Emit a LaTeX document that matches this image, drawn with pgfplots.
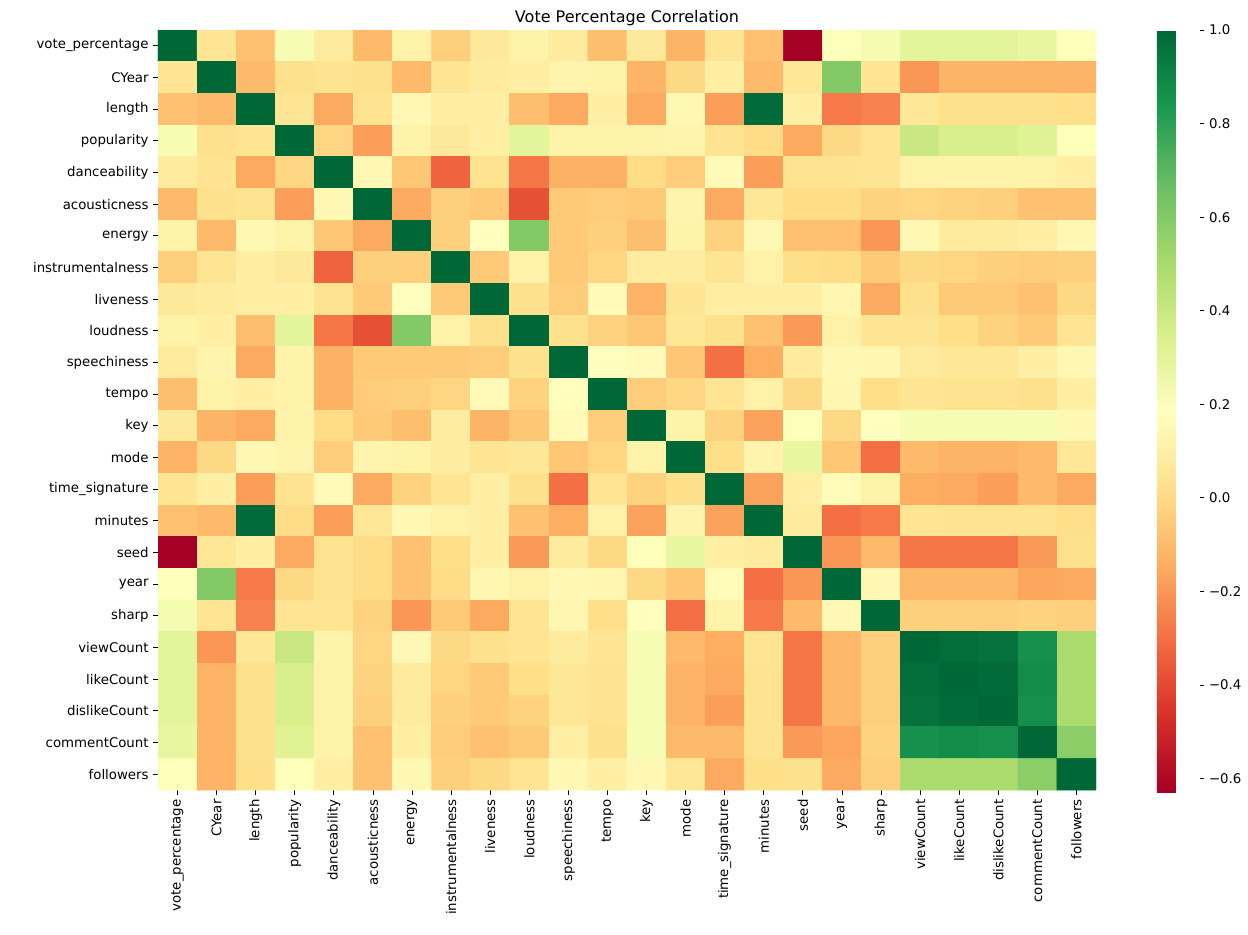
\documentclass[border=0pt]{standalone}
\usepackage{fontspec}
\setmainfont{DejaVu Sans}
\usepackage{pgfplots}
\pgfplotsset{compat=1.18}
\pgfplotsset{colormap={RdYlGn}{rgb255(0)=(165,0,38) rgb255(1)=(215,48,39) rgb255(2)=(244,109,67) rgb255(3)=(253,174,97) rgb255(4)=(254,224,139) rgb255(5)=(255,255,191) rgb255(6)=(217,239,139) rgb255(7)=(166,217,106) rgb255(8)=(102,189,99) rgb255(9)=(26,152,80) rgb255(10)=(0,104,55)}}
\begin{document}
\begin{tikzpicture}
\path[use as bounding box] (-118.5pt,22.5pt) rectangle (817.5pt,-678.5pt);
\begin{axis}[
 at={(0,0)}, anchor=north west,
 scale only axis, width=703.5pt, height=570pt,
 xmin=-0.5, xmax=23.5, ymin=-0.5, ymax=23.5,
 enlargelimits=false,
 axis line style={draw=none},
 tick align=outside, major tick length=3.5pt,
 tick style={black, line width=0.6pt},
 xtick pos=bottom, ytick pos=left,
 xtick={0,...,23}, ytick={0,...,23},
 tick label style={font=\fontsize{10}{12}\selectfont},
 xticklabel style={rotate=90, anchor=east},
 xticklabels={vote\_percentage,CYear,length,popularity,danceability,acousticness,energy,instrumentalness,liveness,loudness,speechiness,tempo,key,mode,time\_signature,minutes,seed,year,sharp,viewCount,likeCount,dislikeCount,commentCount,followers},
 yticklabels={followers,commentCount,dislikeCount,likeCount,viewCount,sharp,year,seed,minutes,time\_signature,mode,key,tempo,speechiness,loudness,liveness,instrumentalness,energy,acousticness,danceability,popularity,length,CYear,vote\_percentage},
 title={Vote Percentage Correlation},
 title style={font=\fontsize{12}{14}\selectfont, at={(0.5,1)}, anchor=south, yshift=-3pt, inner sep=0pt},
 colormap name=RdYlGn,
 point meta min=-0.63, point meta max=1,
 colorbar,
 colorbar style={
  at={(parent axis.north east)}, anchor=north west, xshift=37.2pt,
  scale only axis, width=32pt, height=572pt,
  axis line style={draw=none},
  tick align=outside, major tick length=3.5pt,
  tick style={black, line width=0.6pt},
  ytick pos=right, yticklabel pos=right,
  ytick={-0.6,-0.4,-0.2,0,0.2,0.4,0.6,0.8,1.0},
  yticklabels={−0.6,−0.4,−0.2,0.0,0.2,0.4,0.6,0.8,1.0},
  yticklabel style={font=\fontsize{10}{12}\selectfont},
 },
]
\addplot[matrix plot*, mesh/cols=24, point meta=explicit] table[row sep=\\, header=false, x expr={\coordindex-24*floor((\coordindex+0.5)/24)}, y expr={23-floor((\coordindex+0.5)/24)}, meta index=0] {
1\\ 0.05\\ -0.08\\ 0.22\\ 0.08\\ -0.1\\ 0.12\\ -0.03\\ 0.07\\ 0.12\\ 0.08\\ -0.09\\ 0.07\\ -0.12\\ 0.05\\ -0.08\\ -0.63\\ 0.2\\ 0.23\\ 0.3\\ 0.3\\ 0.3\\ 0.28\\ 0.2\\
0.05\\ 1\\ -0.1\\ 0.03\\ 0.04\\ 0.03\\ -0.1\\ 0.05\\ 0.08\\ 0.1\\ 0.13\\ 0.12\\ -0.12\\ 0.0\\ 0.1\\ -0.1\\ 0.06\\ 0.6\\ 0.05\\ -0.2\\ -0.12\\ -0.12\\ -0.12\\ -0.12\\
-0.08\\ -0.1\\ 1\\ 0.05\\ -0.15\\ 0.04\\ 0.15\\ 0.1\\ 0.1\\ -0.09\\ -0.15\\ 0.1\\ -0.15\\ 0.15\\ -0.18\\ 0.99\\ 0.1\\ -0.27\\ -0.25\\ 0.06\\ 0.03\\ 0.03\\ 0.03\\ 0.02\\
0.22\\ 0.03\\ 0.05\\ 1\\ -0.01\\ -0.18\\ 0.12\\ 0.07\\ 0.1\\ 0.3\\ 0.12\\ 0.12\\ 0.12\\ 0.13\\ 0.04\\ 0.01\\ -0.15\\ 0.0\\ 0.05\\ 0.4\\ 0.35\\ 0.35\\ 0.32\\ 0.2\\
0.08\\ 0.04\\ -0.15\\ -0.01\\ 1\\ 0.15\\ -0.06\\ -0.33\\ 0.04\\ -0.28\\ -0.13\\ -0.13\\ 0.01\\ -0.04\\ 0.16\\ -0.18\\ 0.04\\ 0.04\\ 0.05\\ 0.12\\ 0.12\\ 0.12\\ 0.12\\ 0.1\\
-0.1\\ 0.03\\ 0.04\\ -0.18\\ 0.15\\ 1\\ -0.15\\ -0.03\\ -0.05\\ -0.38\\ -0.05\\ -0.04\\ -0.05\\ 0.13\\ -0.15\\ 0.06\\ 0.01\\ 0.01\\ -0.02\\ -0.01\\ -0.02\\ -0.03\\ -0.08\\ -0.08\\
0.12\\ -0.1\\ 0.15\\ 0.12\\ -0.06\\ -0.15\\ 1\\ -0.03\\ 0.18\\ 0.6\\ -0.05\\ -0.03\\ -0.09\\ 0.12\\ -0.02\\ 0.15\\ -0.08\\ -0.08\\ -0.2\\ 0.15\\ 0.08\\ 0.08\\ 0.1\\ 0.15\\
-0.03\\ 0.05\\ 0.1\\ 0.07\\ -0.33\\ -0.03\\ -0.03\\ 1\\ -0.05\\ 0.11\\ -0.05\\ -0.01\\ 0.09\\ 0.09\\ 0.05\\ 0.11\\ 0.02\\ 0.01\\ -0.05\\ 0.0\\ -0.01\\ -0.03\\ -0.04\\ -0.03\\
0.07\\ 0.08\\ 0.1\\ 0.1\\ 0.04\\ -0.05\\ 0.18\\ -0.05\\ 1\\ 0.03\\ -0.04\\ 0.16\\ -0.12\\ 0.05\\ 0.1\\ 0.1\\ 0.1\\ 0.14\\ -0.15\\ 0.03\\ -0.05\\ -0.05\\ -0.08\\ 0.0\\
0.12\\ 0.1\\ -0.09\\ 0.3\\ -0.28\\ -0.38\\ 0.6\\ 0.11\\ 0.03\\ 1\\ 0.03\\ -0.02\\ -0.06\\ 0.06\\ 0.03\\ -0.08\\ -0.19\\ 0.11\\ 0.05\\ 0.05\\ 0.02\\ -0.02\\ -0.05\\ 0.05\\
0.08\\ 0.13\\ -0.15\\ 0.12\\ -0.13\\ -0.05\\ -0.05\\ -0.05\\ -0.04\\ 0.03\\ 1\\ 0.18\\ 0.16\\ -0.06\\ -0.3\\ -0.14\\ 0.08\\ 0.15\\ 0.14\\ 0.08\\ 0.06\\ 0.06\\ 0.1\\ 0.15\\
-0.09\\ 0.12\\ 0.1\\ 0.12\\ -0.13\\ -0.04\\ -0.03\\ -0.01\\ 0.16\\ -0.02\\ 0.18\\ 1\\ -0.04\\ -0.01\\ 0.05\\ 0.11\\ 0.0\\ 0.14\\ 0.02\\ 0.05\\ 0.04\\ 0.04\\ 0.03\\ 0.1\\
0.07\\ -0.12\\ -0.15\\ 0.12\\ 0.01\\ -0.05\\ -0.09\\ 0.09\\ -0.12\\ -0.06\\ 0.16\\ -0.04\\ 1\\ 0.12\\ -0.02\\ -0.17\\ 0.2\\ 0.0\\ 0.18\\ 0.22\\ 0.22\\ 0.22\\ 0.22\\ 0.15\\
-0.12\\ 0.0\\ 0.15\\ 0.13\\ -0.04\\ 0.13\\ 0.12\\ 0.09\\ 0.05\\ 0.06\\ -0.06\\ -0.01\\ 0.12\\ 1\\ 0.02\\ 0.13\\ 0.28\\ -0.06\\ -0.3\\ -0.1\\ -0.12\\ -0.12\\ -0.1\\ 0.06\\
0.05\\ 0.1\\ -0.18\\ 0.04\\ 0.16\\ -0.15\\ -0.02\\ 0.05\\ 0.1\\ 0.03\\ -0.3\\ 0.05\\ -0.02\\ 0.02\\ 1\\ -0.17\\ 0.1\\ 0.17\\ 0.12\\ -0.14\\ -0.15\\ -0.18\\ -0.1\\ -0.15\\
-0.08\\ -0.1\\ 0.99\\ 0.01\\ -0.18\\ 0.06\\ 0.15\\ 0.11\\ 0.1\\ -0.08\\ -0.14\\ 0.11\\ -0.17\\ 0.13\\ -0.17\\ 1\\ 0.08\\ -0.3\\ -0.27\\ 0.05\\ 0.04\\ 0.04\\ 0.04\\ 0.02\\
-0.63\\ 0.06\\ 0.1\\ -0.15\\ 0.04\\ 0.01\\ -0.08\\ 0.02\\ 0.1\\ -0.19\\ 0.08\\ 0.0\\ 0.2\\ 0.28\\ 0.1\\ 0.08\\ 1\\ -0.2\\ -0.1\\ -0.28\\ -0.28\\ -0.28\\ -0.19\\ 0.03\\
0.2\\ 0.6\\ -0.27\\ 0.0\\ 0.04\\ 0.01\\ -0.08\\ 0.01\\ 0.14\\ 0.11\\ 0.15\\ 0.14\\ 0.0\\ -0.06\\ 0.17\\ -0.3\\ -0.2\\ 1\\ 0.15\\ -0.11\\ -0.11\\ -0.11\\ -0.16\\ -0.15\\
0.23\\ 0.05\\ -0.25\\ 0.05\\ 0.05\\ -0.02\\ -0.2\\ -0.05\\ -0.15\\ 0.05\\ 0.14\\ 0.02\\ 0.18\\ -0.3\\ 0.12\\ -0.27\\ -0.1\\ 0.15\\ 1\\ -0.03\\ -0.03\\ -0.03\\ -0.02\\ -0.03\\
0.3\\ -0.2\\ 0.06\\ 0.4\\ 0.12\\ -0.01\\ 0.15\\ 0.0\\ 0.03\\ 0.05\\ 0.08\\ 0.05\\ 0.22\\ -0.1\\ -0.14\\ 0.05\\ -0.28\\ -0.11\\ -0.03\\ 1\\ 0.98\\ 0.97\\ 0.86\\ 0.5\\
0.3\\ -0.12\\ 0.03\\ 0.35\\ 0.12\\ -0.02\\ 0.08\\ -0.01\\ -0.05\\ 0.02\\ 0.06\\ 0.04\\ 0.22\\ -0.12\\ -0.15\\ 0.04\\ -0.28\\ -0.11\\ -0.03\\ 0.98\\ 1\\ 0.99\\ 0.88\\ 0.5\\
0.3\\ -0.12\\ 0.03\\ 0.35\\ 0.12\\ -0.03\\ 0.08\\ -0.03\\ -0.05\\ -0.02\\ 0.06\\ 0.04\\ 0.22\\ -0.12\\ -0.18\\ 0.04\\ -0.28\\ -0.11\\ -0.03\\ 0.97\\ 0.99\\ 1\\ 0.87\\ 0.5\\
0.28\\ -0.12\\ 0.03\\ 0.32\\ 0.12\\ -0.08\\ 0.1\\ -0.04\\ -0.08\\ -0.05\\ 0.1\\ 0.03\\ 0.22\\ -0.1\\ -0.1\\ 0.04\\ -0.19\\ -0.16\\ -0.02\\ 0.86\\ 0.88\\ 0.87\\ 1\\ 0.58\\
0.2\\ -0.12\\ 0.02\\ 0.2\\ 0.1\\ -0.08\\ 0.15\\ -0.03\\ 0.0\\ 0.05\\ 0.15\\ 0.1\\ 0.15\\ 0.06\\ -0.15\\ 0.02\\ 0.03\\ -0.15\\ -0.03\\ 0.5\\ 0.5\\ 0.5\\ 0.58\\ 1\\
};
\end{axis}
\end{tikzpicture}
\end{document}
